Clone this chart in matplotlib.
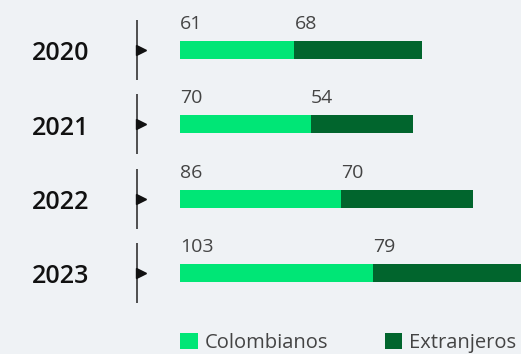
import matplotlib
matplotlib.use("Agg")
import matplotlib.pyplot as plt
import matplotlib.transforms as mtransforms
from matplotlib.patches import Patch

years = ["2020", "2021", "2022", "2023"]
colombianos = [61, 70, 86, 103]
extranjeros = [68, 54, 70, 79]
series_names = ["Colombianos", "Extranjeros"]

bg = "#eff2f5"
c_light = "#00e676"
c_dark = "#01652d"
txt_gray = "#444444"

W, H, DPI = 521, 354, 100
fig = plt.figure(figsize=(W / DPI, H / DPI), dpi=DPI, facecolor=bg)
ax = fig.add_axes([0, 0, 1, 1], facecolor=bg)

# x: value 0 sits at 180 px, scale 1.875 px per unit; y: pixel rows from the top
x0_px, px_per_unit = 180, 1.875
ax.set_xlim(-x0_px / px_per_unit, (W - x0_px) / px_per_unit)
ax.set_ylim(H, 0)
ax.axis("off")

row_y = [50 + i * 74.3 for i in range(len(years))]
bar_h = 18

ax.barh(row_y, colombianos, height=bar_h, color=c_light, label=series_names[0])
ax.barh(row_y, extranjeros, left=colombianos, height=bar_h, color=c_dark,
        label=series_names[1])

fx = mtransforms.blended_transform_factory(fig.transFigure, ax.transData)

for y, yr, c, e in zip(row_y, years, colombianos, extranjeros):
    ax.text(0, y - 26, f"{c}", ha="left", va="center", fontsize=14,
            color=txt_gray, family="Open Sans")
    ax.text(c, y - 26, f"{e}", ha="left", va="center", fontsize=14,
            color=txt_gray, family="Open Sans")
    ax.text(61 / W, y + 4, yr, transform=fx, ha="center", va="center",
            fontsize=18, fontweight="semibold", color="#111111",
            family="Open Sans")
    ax.plot([137 / W, 137 / W], [y - 30, y + 30], transform=fx,
            color="#333333", lw=1.2, solid_capstyle="butt")
    ax.plot([141 / W], [y], transform=fx, marker=">", markersize=6.5,
            color="#111111", linestyle="none")

handles = [Patch(facecolor=c_light, edgecolor="none"),
           Patch(facecolor=c_dark, edgecolor="none")]
fig.legend(handles, series_names, loc="center left",
           bbox_to_anchor=(170 / W, 11 / H), ncol=2, frameon=False,
           borderpad=0, handlelength=0.87, handleheight=0.87,
           handletextpad=0.35, columnspacing=2.8, labelcolor=txt_gray,
           prop={"family": "Open Sans", "size": 14.5})

fig.savefig("out.png", dpi=DPI, facecolor=bg)
